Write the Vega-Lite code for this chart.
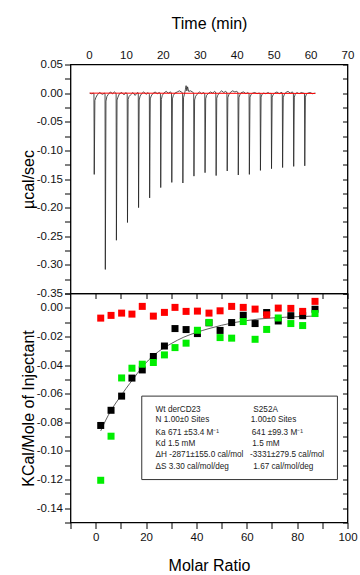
{
  "$schema": "https://vega.github.io/schema/vega-lite/v6.json",
  "background": "white",
  "padding": {"left": 19.5, "top": 14.5, "right": 2, "bottom": 2},
  "spacing": 0,
  "bounds": "flush",
  "config": {
    "font": "Liberation Sans",
    "view": {"stroke": "#000", "strokeWidth": 1.3},
    "axis": {
      "labelFont": "Liberation Sans", "titleFont": "Liberation Sans",
      "labelFontSize": 11.5, "titleFontSize": 16, "titleFontWeight": "normal",
      "labelColor": "#111", "titleColor": "#000", "tickColor": "#000",
      "tickWidth": 1, "grid": false, "domain": false, "labelFlush": false, "labelOverlap": false
    }
  },
  "vconcat": [
    {
      "width": 277, "height": 229,
      "resolve": {"axis": {"x": "independent", "y": "independent"}},
      "layer": [
        {
          "data": {"values": [
            {"t":0.2,"v":0.000},{"t":0.7,"v":-0.001},
            {"t":1.25,"v":0.000},{"t":1.35,"v":-0.001},{"t":1.43,"v":-0.142},{"t":1.6,"v":-0.013},{"t":1.85,"v":-0.008},{"t":2.25,"v":-0.003},{"t":2.9,"v":0.001},{"t":3.6,"v":-0.002},
            {"t":4.25,"v":0.000},{"t":4.35,"v":-0.002},{"t":4.43,"v":-0.308},{"t":4.6,"v":-0.014},{"t":4.85,"v":-0.006},{"t":5.25,"v":-0.002},{"t":5.8,"v":0.002},{"t":6.4,"v":-0.001},{"t":6.9,"v":0.002},
            {"t":7.25,"v":0.000},{"t":7.35,"v":-0.001},{"t":7.43,"v":-0.257},{"t":7.6,"v":-0.012},{"t":7.85,"v":-0.007},{"t":8.25,"v":-0.001},{"t":8.9,"v":0.001},{"t":9.5,"v":-0.003},{"t":10.0,"v":0.001},
            {"t":10.25,"v":-0.001},{"t":10.35,"v":-0.002},{"t":10.43,"v":-0.226},{"t":10.6,"v":-0.011},{"t":10.85,"v":-0.006},{"t":11.25,"v":-0.003},{"t":11.9,"v":0.001},{"t":12.5,"v":-0.004},{"t":13.0,"v":0.000},
            {"t":13.25,"v":0.001},{"t":13.35,"v":0.000},{"t":13.43,"v":-0.200},{"t":13.6,"v":-0.012},{"t":13.85,"v":-0.005},{"t":14.25,"v":-0.001},{"t":14.8,"v":0.002},{"t":15.5,"v":-0.002},{"t":16.0,"v":0.001},
            {"t":16.25,"v":-0.001},{"t":16.35,"v":-0.002},{"t":16.43,"v":-0.183},{"t":16.6,"v":-0.010},{"t":16.85,"v":-0.005},{"t":17.25,"v":-0.001},{"t":17.9,"v":0.002},{"t":18.5,"v":-0.001},{"t":19.0,"v":0.001},
            {"t":19.25,"v":0.000},{"t":19.35,"v":-0.001},{"t":19.43,"v":-0.165},{"t":19.6,"v":-0.011},{"t":19.85,"v":-0.004},{"t":20.25,"v":0.000},{"t":20.9,"v":0.003},{"t":21.5,"v":0.000},{"t":22.0,"v":0.002},
            {"t":22.25,"v":0.001},{"t":22.35,"v":0.000},{"t":22.43,"v":-0.156},{"t":22.6,"v":-0.010},{"t":22.85,"v":-0.004},{"t":23.25,"v":0.000},{"t":23.9,"v":0.002},{"t":24.5,"v":0.004},{"t":25.0,"v":0.002},
            {"t":25.25,"v":0.001},{"t":25.35,"v":0.000},{"t":25.43,"v":-0.157},{"t":25.6,"v":-0.008},{"t":25.85,"v":-0.002},{"t":26.1,"v":0.006},{"t":26.3,"v":0.013},{"t":26.5,"v":0.004},{"t":26.7,"v":0.011},{"t":27.0,"v":0.003},{"t":27.5,"v":0.004},{"t":28.0,"v":0.002},
            {"t":28.25,"v":0.001},{"t":28.35,"v":0.000},{"t":28.43,"v":-0.145},{"t":28.6,"v":-0.012},{"t":28.85,"v":-0.006},{"t":29.25,"v":-0.002},{"t":29.9,"v":0.002},{"t":30.5,"v":-0.001},{"t":31.0,"v":0.001},
            {"t":31.25,"v":0.000},{"t":31.35,"v":-0.001},{"t":31.43,"v":-0.139},{"t":31.6,"v":-0.010},{"t":31.85,"v":-0.004},{"t":32.25,"v":-0.001},{"t":32.9,"v":0.002},{"t":33.5,"v":0.000},{"t":34.0,"v":0.003},
            {"t":34.25,"v":0.002},{"t":34.35,"v":0.000},{"t":34.43,"v":-0.144},{"t":34.6,"v":-0.009},{"t":34.85,"v":-0.004},{"t":35.25,"v":0.000},{"t":35.9,"v":0.004},{"t":36.5,"v":0.001},{"t":37.0,"v":0.003},
            {"t":37.25,"v":0.002},{"t":37.35,"v":0.000},{"t":37.43,"v":-0.136},{"t":37.6,"v":-0.008},{"t":37.85,"v":-0.003},{"t":38.25,"v":0.001},{"t":38.9,"v":0.004},{"t":39.5,"v":0.002},{"t":40.0,"v":0.003},
            {"t":40.25,"v":0.002},{"t":40.35,"v":0.000},{"t":40.43,"v":-0.143},{"t":40.6,"v":-0.008},{"t":40.85,"v":-0.003},{"t":41.25,"v":0.001},{"t":41.9,"v":0.002},{"t":42.5,"v":-0.001},{"t":43.0,"v":0.001},
            {"t":43.25,"v":0.000},{"t":43.35,"v":-0.001},{"t":43.43,"v":-0.142},{"t":43.6,"v":-0.007},{"t":43.85,"v":-0.003},{"t":44.25,"v":0.000},{"t":44.9,"v":0.001},{"t":45.5,"v":-0.001},{"t":46.0,"v":0.000},
            {"t":46.25,"v":0.000},{"t":46.35,"v":-0.001},{"t":46.43,"v":-0.135},{"t":46.6,"v":-0.007},{"t":46.85,"v":-0.002},{"t":47.25,"v":0.000},{"t":47.9,"v":-0.001},{"t":48.5,"v":0.001},{"t":49.0,"v":-0.001},
            {"t":49.25,"v":0.000},{"t":49.35,"v":-0.001},{"t":49.43,"v":-0.132},{"t":49.6,"v":-0.007},{"t":49.85,"v":-0.003},{"t":50.25,"v":0.000},{"t":50.9,"v":0.002},{"t":51.5,"v":-0.001},{"t":52.0,"v":0.001},
            {"t":52.25,"v":0.001},{"t":52.35,"v":0.000},{"t":52.43,"v":-0.130},{"t":52.6,"v":-0.008},{"t":52.85,"v":-0.003},{"t":53.25,"v":0.001},{"t":53.9,"v":0.003},{"t":54.5,"v":0.000},{"t":55.0,"v":0.002},
            {"t":55.25,"v":0.001},{"t":55.35,"v":0.000},{"t":55.43,"v":-0.128},{"t":55.6,"v":-0.007},{"t":55.85,"v":-0.002},{"t":56.25,"v":0.001},{"t":56.9,"v":-0.001},{"t":57.5,"v":0.001},{"t":58.0,"v":0.000},
            {"t":58.25,"v":0.000},{"t":58.35,"v":-0.001},{"t":58.43,"v":-0.127},{"t":58.6,"v":-0.007},{"t":58.85,"v":-0.002},{"t":59.25,"v":0.000},{"t":59.9,"v":0.001},{"t":60.5,"v":-0.001},{"t":61.3,"v":0.000}
          ]},
          "mark": {"type": "line", "color": "#222", "strokeWidth": 0.8, "clip": true},
          "encoding": {
            "x": {"field": "t", "type": "quantitative",
              "scale": {"domain": [-5, 70], "nice": false, "zero": false},
              "axis": {"orient": "top", "title": "Time (min)", "titlePadding": 18,
                "values": [0,5,10,15,20,25,30,35,40,45,50,55,60,65,70],
                "labelExpr": "datum.value % 10 == 0 ? datum.label : ''",
                "tickSize": 0, "labelPadding": 4,
                "encode": {"ticks": {"update": {"y2": {"signal": "datum.value % 10 == 0 ? 5 : 3"}}}}}},
            "y": {"field": "v", "type": "quantitative",
              "scale": {"domain": [-0.35, 0.05], "nice": false, "zero": false},
              "axis": {"orient": "left", "title": "µcal/sec", "titlePadding": 0,
                "values": [-0.35,-0.325,-0.3,-0.275,-0.25,-0.225,-0.2,-0.175,-0.15,-0.125,-0.1,-0.075,-0.05,-0.025,0,0.025,0.05],
                "labelExpr": "abs(round(datum.value*1000)) % 50 == 0 ? replace(format(datum.value, '.2f'), '\u2212', '-') : ''",
                "tickSize": 6, "labelPadding": 2,
                "encode": {"ticks": {"update": {"x2": {"signal": "abs(round(datum.value*1000)) % 50 == 0 ? -6 : -3"}}}}}}
          }
        },
        {
          "data": {"values": [{"t": 0.2, "v": 0.0}, {"t": 61.3, "v": -0.0005}]},
          "mark": {"type": "line", "color": "#ff0000", "strokeWidth": 1},
          "encoding": {
            "x": {"field": "t", "type": "quantitative", "scale": {"domain": [-5, 70], "nice": false, "zero": false}, "axis": null},
            "y": {"field": "v", "type": "quantitative", "scale": {"domain": [-0.35, 0.05], "nice": false, "zero": false},
              "axis": {"orient": "right", "title": null, "labels": false, "tickSize": -5,
                "values": [-0.35,-0.325,-0.3,-0.275,-0.25,-0.225,-0.2,-0.175,-0.15,-0.125,-0.1,-0.075,-0.05,-0.025,0,0.025,0.05]}}
          }
        }
      ]
    },
    {
      "width": 277, "height": 229,
      "resolve": {"axis": {"x": "independent", "y": "independent"}},
      "layer": [
        {
          "data": {"values": [
            {"x":2,"y":-0.086},{"x":4,"y":-0.0785},{"x":6,"y":-0.072},{"x":8,"y":-0.0665},{"x":10,"y":-0.0615},{"x":12,"y":-0.0565},{"x":15,"y":-0.0495},{"x":18,"y":-0.0425},{"x":21,"y":-0.0365},{"x":25,"y":-0.0305},{"x":30,"y":-0.025},{"x":35,"y":-0.0205},{"x":40,"y":-0.0172},{"x":45,"y":-0.0145},{"x":50,"y":-0.0122},{"x":55,"y":-0.0103},{"x":60,"y":-0.0089},{"x":65,"y":-0.0078},{"x":70,"y":-0.0071},{"x":75,"y":-0.0066},{"x":80,"y":-0.0062},{"x":88,"y":-0.0057}
          ]},
          "mark": {"type": "line", "color": "#333", "strokeWidth": 0.8, "interpolate": "monotone"},
          "encoding": {
            "x": {"field": "x", "type": "quantitative", "scale": {"domain": [-10, 100], "nice": false, "zero": false},
              "axis": {"orient": "top", "title": null, "labels": false, "tickSize": -5, "values": [0,10,20,30,40,50,60,70,80,90,100]}},
            "y": {"field": "y", "type": "quantitative", "scale": {"domain": [-0.15, 0.01], "nice": false, "zero": false},
              "axis": {"orient": "right", "title": null, "labels": false, "tickSize": -5,
                "values": [-0.15,-0.14,-0.13,-0.12,-0.11,-0.1,-0.09,-0.08,-0.07,-0.06,-0.05,-0.04,-0.03,-0.02,-0.01,0,0.01]}}
          }
        },
        {
          "data": {"values": [
            {"s":"Wt derCD23","x":2.0,"y":-0.0822},{"s":"Wt derCD23","x":6.1,"y":-0.0716},{"s":"Wt derCD23","x":10.3,"y":-0.0617},{"s":"Wt derCD23","x":14.4,"y":-0.0491},{"s":"Wt derCD23","x":18.5,"y":-0.0434},{"s":"Wt derCD23","x":22.9,"y":-0.034},{"s":"Wt derCD23","x":27.3,"y":-0.0267},{"s":"Wt derCD23","x":31.5,"y":-0.0145},{"s":"Wt derCD23","x":35.9,"y":-0.0152},{"s":"Wt derCD23","x":40.4,"y":-0.018},{"s":"Wt derCD23","x":45.0,"y":-0.0105},{"s":"Wt derCD23","x":49.4,"y":-0.0158},{"s":"Wt derCD23","x":54.0,"y":-0.0103},{"s":"Wt derCD23","x":58.6,"y":-0.0052},{"s":"Wt derCD23","x":63.3,"y":-0.011},{"s":"Wt derCD23","x":67.9,"y":-0.0033},{"s":"Wt derCD23","x":72.5,"y":-0.0092},{"s":"Wt derCD23","x":77.5,"y":-0.0055},{"s":"Wt derCD23","x":82.2,"y":-0.0055},{"s":"Wt derCD23","x":87.1,"y":-0.001},
            {"s":"S252A","x":2.0,"y":-0.1205},{"s":"S252A","x":6.1,"y":-0.0897},{"s":"S252A","x":10.3,"y":-0.049},{"s":"S252A","x":14.4,"y":-0.0422},{"s":"S252A","x":18.5,"y":-0.0394},{"s":"S252A","x":22.9,"y":-0.0382},{"s":"S252A","x":27.3,"y":-0.0329},{"s":"S252A","x":31.5,"y":-0.0278},{"s":"S252A","x":35.9,"y":-0.0247},{"s":"S252A","x":40.4,"y":-0.0157},{"s":"S252A","x":45.0,"y":-0.0102},{"s":"S252A","x":49.4,"y":-0.0208},{"s":"S252A","x":54.0,"y":-0.0212},{"s":"S252A","x":58.6,"y":-0.0096},{"s":"S252A","x":63.3,"y":-0.022},{"s":"S252A","x":67.9,"y":-0.0151},{"s":"S252A","x":72.5,"y":-0.0071},{"s":"S252A","x":77.5,"y":-0.011},{"s":"S252A","x":82.2,"y":-0.0124},{"s":"S252A","x":87.1,"y":-0.004},
            {"s":"Control","x":2.0,"y":-0.0072},{"s":"Control","x":6.1,"y":-0.0053},{"s":"Control","x":10.3,"y":-0.0037},{"s":"Control","x":14.4,"y":-0.0044},{"s":"Control","x":18.5,"y":0.001},{"s":"Control","x":22.9,"y":-0.0058},{"s":"Control","x":27.3,"y":-0.0032},{"s":"Control","x":31.5,"y":0.0003},{"s":"Control","x":35.9,"y":-0.0025},{"s":"Control","x":40.4,"y":-0.0023},{"s":"Control","x":45.0,"y":-0.0037},{"s":"Control","x":49.4,"y":-0.0021},{"s":"Control","x":54.0,"y":0.001},{"s":"Control","x":58.6,"y":0.0003},{"s":"Control","x":63.3,"y":-0.0009},{"s":"Control","x":67.9,"y":-0.0049},{"s":"Control","x":72.5,"y":-0.0002},{"s":"Control","x":77.5,"y":-0.0004},{"s":"Control","x":82.2,"y":-0.0025},{"s":"Control","x":87.1,"y":0.0045}
          ]},
          "mark": {"type": "square", "size": 49, "opacity": 1, "filled": true},
          "encoding": {
            "x": {"field": "x", "type": "quantitative", "scale": {"domain": [-10, 100], "nice": false, "zero": false},
              "axis": {"orient": "bottom", "title": "Molar Ratio", "titlePadding": 14.5,
                "values": [-10,0,10,20,30,40,50,60,70,80,90,100],
                "labelExpr": "datum.value % 20 == 0 ? datum.label : ''",
                "tickSize": 6, "labelPadding": 3,
                "encode": {"ticks": {"update": {"y2": {"signal": "datum.value % 20 == 0 ? 6 : 3"}}}}}},
            "y": {"field": "y", "type": "quantitative", "scale": {"domain": [-0.15, 0.01], "nice": false, "zero": false},
              "axis": {"orient": "left", "title": "KCal/Mole of Injectant", "titlePadding": 0,
                "values": [-0.15,-0.14,-0.13,-0.12,-0.11,-0.1,-0.09,-0.08,-0.07,-0.06,-0.05,-0.04,-0.03,-0.02,-0.01,0,0.01],
                "labelExpr": "abs(round(datum.value*1000)) % 20 == 0 ? replace(format(datum.value, '.2f'), '\u2212', '-') : ''",
                "tickSize": 6, "labelPadding": 2,
                "encode": {"ticks": {"update": {"x2": {"signal": "abs(round(datum.value*1000)) % 20 == 0 ? -6 : -3"}}}}}},
            "color": {"field": "s", "type": "nominal",
              "scale": {"domain": ["Wt derCD23", "S252A", "Control"], "range": ["#000000", "#00ee00", "#ff0000"]},
              "legend": null}
          }
        },
        {
          "data": {"values": [{"x1": 18.3, "x2": 96.0, "y1": -0.0617, "y2": -0.12}]},
          "mark": {"type": "rect", "fill": "white", "stroke": "#333", "strokeWidth": 1},
          "encoding": {
            "x": {"field": "x1", "type": "quantitative", "scale": {"domain": [-10, 100], "nice": false, "zero": false}, "axis": null},
            "x2": {"field": "x2"},
            "y": {"field": "y1", "type": "quantitative", "scale": {"domain": [-0.15, 0.01], "nice": false, "zero": false}, "axis": null},
            "y2": {"field": "y2"}
          }
        },
        {
          "data": {"values": [
            {"x": 23.8, "y": -0.0711, "label": "Wt derCD23"},
            {"x": 23.8, "y": -0.0787, "label": "N 1.00±0 Sites"},
            {"x": 23.8, "y": -0.0874, "label": "Ka 671  ±53.4 M⁻¹"},
            {"x": 23.8, "y": -0.0951, "label": "Kd 1.5 mM"},
            {"x": 23.8, "y": -0.1030, "label": "ΔH -2871±155.0 cal/mol"},
            {"x": 23.8, "y": -0.1112, "label": "ΔS 3.30 cal/mol/deg"},
            {"x": 62.6, "y": -0.0711, "label": "S252A"},
            {"x": 61.6, "y": -0.0787, "label": "1.00±0 Sites"},
            {"x": 62.0, "y": -0.0874, "label": "641 ±99.3 M⁻¹"},
            {"x": 62.2, "y": -0.0951, "label": "1.5 mM"},
            {"x": 61.3, "y": -0.1030, "label": "-3331±279.5 cal/mol"},
            {"x": 62.6, "y": -0.1112, "label": "1.67 cal/mol/deg"}
          ]},
          "mark": {"type": "text", "align": "left", "baseline": "middle", "fontSize": 8.2, "font": "Liberation Sans", "color": "#222"},
          "encoding": {
            "x": {"field": "x", "type": "quantitative", "scale": {"domain": [-10, 100], "nice": false, "zero": false}, "axis": null},
            "y": {"field": "y", "type": "quantitative", "scale": {"domain": [-0.15, 0.01], "nice": false, "zero": false}, "axis": null},
            "text": {"field": "label"}
          }
        }
      ]
    }
  ]
}
